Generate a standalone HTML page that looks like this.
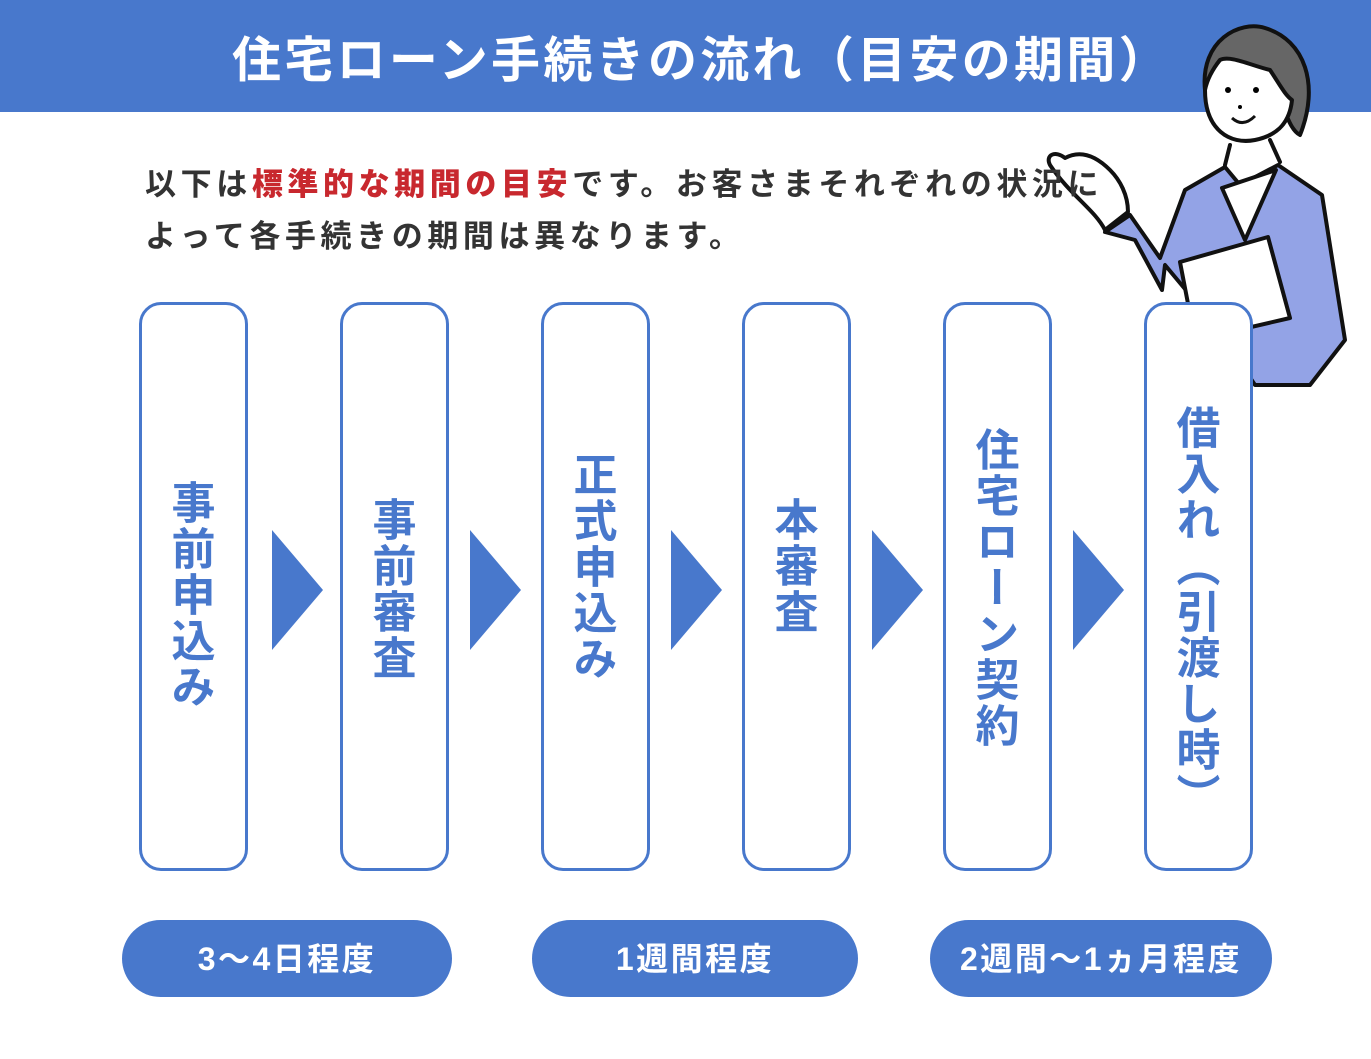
<!DOCTYPE html>
<html><head><meta charset="utf-8"><style>
body{margin:0;width:1371px;height:1059px;background:#fff;position:relative;overflow:hidden;font-family:"Liberation Sans","Noto Sans CJK JP",sans-serif}
.hdr{position:absolute;left:0;top:0;width:1371px;height:112px;background:#4878cc}
.title{position:absolute;left:232px;top:21px;white-space:nowrap;color:#fff;font-size:49px;font-weight:bold;letter-spacing:3.3px}
.lead{position:absolute;left:145px;top:159px;font-size:31px;line-height:52px;color:#333;font-weight:bold;letter-spacing:4.6px;white-space:nowrap}
.lead b{color:#c8282e}
.box{position:absolute;top:302px;width:103px;height:563px;border:3px solid #4878cc;border-radius:22px;background:#fff}
.v{position:absolute;writing-mode:vertical-rl;font-size:44px;font-weight:bold;color:#4878cc;left:50%;transform:translateX(calc(-50% - 5px));letter-spacing:2px;line-height:1}
.tri{position:absolute;top:530px;width:0;height:0;border-top:60px solid transparent;border-bottom:60px solid transparent;border-left:51px solid #4878cc}
.pill{position:absolute;top:920px;height:77px;border-radius:39px;background:#4878cc;color:#fff;font-size:32px;font-weight:bold;text-align:center;line-height:79px;letter-spacing:2.5px}
</style></head><body>
<div class="hdr"></div>
<div class="title">住宅ローン手続きの流れ（目安の期間）</div>
<svg style="position:absolute;left:0;top:0" width="1371" height="1059" viewBox="0 0 1371 1059">
<g stroke="#111" stroke-width="4" stroke-linecap="round" stroke-linejoin="round">
<path d="M1185 190 L1225 167 L1240 185 L1278 165 L1322 195 L1345 340 L1310 385 L1255 385 L1215 325 L1165 265 L1162 290 L1135 240 L1105 232 L1130 215 L1160 258 Z" fill="#93a3e6"/>
<path d="M1222 188 L1276 170 L1245 240 Z" fill="#fff"/>
<path d="M1180 262 L1268 237 L1290 318 L1195 340 Z" fill="#fff"/>
<path d="M1230 145 L1225 165 M1270 140 L1280 162" fill="none"/>
<path d="M1205 90 C1200 40 1240 20 1265 28 C1305 40 1320 85 1300 135 C1290 130 1285 110 1280 100 C1260 85 1235 70 1220 60 C1212 70 1208 80 1205 90 Z" fill="#666"/>
<path d="M1205 90 C1205 130 1230 145 1255 140 C1280 135 1290 120 1292 100 C1285 95 1280 85 1270 70 C1250 65 1230 55 1220 60 C1212 70 1207 80 1205 90 Z" fill="#fff"/>
<path d="M1105 230 C1095 210 1070 195 1050 165 C1045 155 1055 150 1065 158 C1080 150 1095 155 1110 170 C1120 180 1128 195 1128 212 Z" fill="#fff"/>
</g>
<circle cx="1228" cy="90" r="3"/><circle cx="1256" cy="90" r="3"/><circle cx="1240" cy="107" r="2"/>
<path d="M1232 118 Q1243 128 1255 116" stroke="#111" stroke-width="3" fill="none"/>
</svg>
<div class="lead">以下は<b>標準的な期間の目安</b>です。お客さまそれぞれの状況に<br>よって各手続きの期間は異なります。</div>

<div class="box" style="left:139px"><div class="v" style="top:175px">事前申込み</div></div>
<div class="box" style="left:340px"><div class="v" style="top:192px">事前審査</div></div>
<div class="box" style="left:541px"><div class="v" style="top:147px">正式申込み</div></div>
<div class="box" style="left:742px"><div class="v" style="top:192px">本審査</div></div>
<div class="box" style="left:943px"><div class="v" style="top:122px">住宅ローン契約</div></div>
<div class="box" style="left:1144px"><div class="v" style="top:100px">借入れ（引渡し時）</div></div>

<div class="tri" style="left:272px"></div>
<div class="tri" style="left:470px"></div>
<div class="tri" style="left:671px"></div>
<div class="tri" style="left:872px"></div>
<div class="tri" style="left:1073px"></div>

<div class="pill" style="left:122px;width:330px">3〜4日程度</div>
<div class="pill" style="left:532px;width:326px">1週間程度</div>
<div class="pill" style="left:930px;width:342px">2週間〜1ヵ月程度</div>
</body></html>
